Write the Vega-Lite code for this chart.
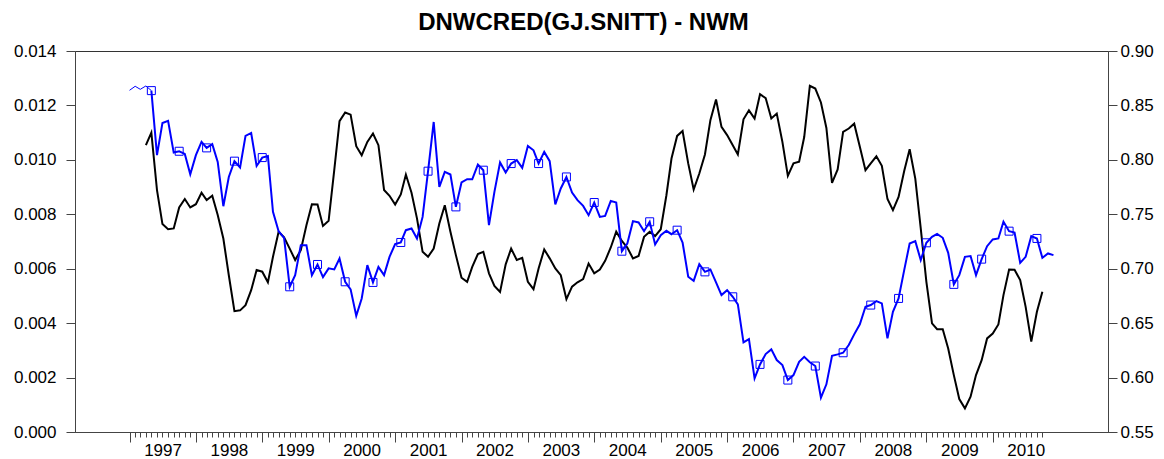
{
  "$schema": "https://vega.github.io/schema/vega-lite/v6.json",
  "width": 1033,
  "height": 381,
  "autosize": {"type": "none"},
  "padding": {"left": 75, "top": 51, "right": 56, "bottom": 27},
  "background": "white",
  "title": {"text": "DNWCRED(GJ.SNITT) - NWM", "font": "Liberation Sans", "fontSize": 24, "fontWeight": "bold", "color": "#000", "anchor": "middle", "offset": 7, "dx": -8},
  "config": {
    "view": {"stroke": "#333", "strokeWidth": 1},
    "axis": {"domainColor": "#444", "tickColor": "#444", "labelFont": "Liberation Sans", "labelFontSize": 17, "labelColor": "#000", "grid": false, "title": null}
  },
  "data": {"values": [
    {"date": "1997-01-01", "nwm": 0.8639, "dnwcred": null},
    {"date": "1997-02-01", "nwm": 0.8676, "dnwcred": null},
    {"date": "1997-03-01", "nwm": 0.8648, "dnwcred": null},
    {"date": "1997-04-01", "nwm": 0.8679, "dnwcred": 0.01054},
    {"date": "1997-05-01", "nwm": 0.8636, "dnwcred": 0.01100},
    {"date": "1997-06-01", "nwm": 0.8043, "dnwcred": 0.00889},
    {"date": "1997-07-01", "nwm": 0.8339, "dnwcred": 0.00764},
    {"date": "1997-08-01", "nwm": 0.8358, "dnwcred": 0.00745},
    {"date": "1997-09-01", "nwm": 0.8067, "dnwcred": 0.00748},
    {"date": "1997-10-01", "nwm": 0.8079, "dnwcred": 0.00825},
    {"date": "1997-11-01", "nwm": 0.8055, "dnwcred": 0.00856},
    {"date": "1997-12-01", "nwm": 0.7868, "dnwcred": 0.00825},
    {"date": "1998-01-01", "nwm": 0.8043, "dnwcred": 0.00837},
    {"date": "1998-02-01", "nwm": 0.8165, "dnwcred": 0.00879},
    {"date": "1998-03-01", "nwm": 0.8110, "dnwcred": 0.00852},
    {"date": "1998-04-01", "nwm": 0.8144, "dnwcred": 0.00868},
    {"date": "1998-05-01", "nwm": 0.7981, "dnwcred": 0.00797},
    {"date": "1998-06-01", "nwm": 0.7574, "dnwcred": 0.00711},
    {"date": "1998-07-01", "nwm": 0.7843, "dnwcred": 0.00576},
    {"date": "1998-08-01", "nwm": 0.7988, "dnwcred": 0.00444},
    {"date": "1998-09-01", "nwm": 0.7930, "dnwcred": 0.00447},
    {"date": "1998-10-01", "nwm": 0.8220, "dnwcred": 0.00466},
    {"date": "1998-11-01", "nwm": 0.8247, "dnwcred": 0.00521},
    {"date": "1998-12-01", "nwm": 0.7944, "dnwcred": 0.00595},
    {"date": "1999-01-01", "nwm": 0.8021, "dnwcred": 0.00589},
    {"date": "1999-02-01", "nwm": 0.8036, "dnwcred": 0.00550},
    {"date": "1999-03-01", "nwm": 0.7522, "dnwcred": 0.00644},
    {"date": "1999-04-01", "nwm": 0.7345, "dnwcred": 0.00736},
    {"date": "1999-05-01", "nwm": 0.7284, "dnwcred": 0.00715},
    {"date": "1999-06-01", "nwm": 0.6834, "dnwcred": 0.00674},
    {"date": "1999-07-01", "nwm": 0.6941, "dnwcred": 0.00632},
    {"date": "1999-08-01", "nwm": 0.7216, "dnwcred": 0.00668},
    {"date": "1999-09-01", "nwm": 0.7216, "dnwcred": 0.00760},
    {"date": "1999-10-01", "nwm": 0.6941, "dnwcred": 0.00837},
    {"date": "1999-11-01", "nwm": 0.7039, "dnwcred": 0.00836},
    {"date": "1999-12-01", "nwm": 0.6923, "dnwcred": 0.00757},
    {"date": "2000-01-01", "nwm": 0.7003, "dnwcred": 0.00776},
    {"date": "2000-02-01", "nwm": 0.6993, "dnwcred": 0.00962},
    {"date": "2000-03-01", "nwm": 0.7094, "dnwcred": 0.01142},
    {"date": "2000-04-01", "nwm": 0.6880, "dnwcred": 0.01174},
    {"date": "2000-05-01", "nwm": 0.6810, "dnwcred": 0.01166},
    {"date": "2000-06-01", "nwm": 0.6568, "dnwcred": 0.01050},
    {"date": "2000-07-01", "nwm": 0.6727, "dnwcred": 0.01017},
    {"date": "2000-08-01", "nwm": 0.7033, "dnwcred": 0.01066},
    {"date": "2000-09-01", "nwm": 0.6874, "dnwcred": 0.01097},
    {"date": "2000-10-01", "nwm": 0.7017, "dnwcred": 0.01054},
    {"date": "2000-11-01", "nwm": 0.6941, "dnwcred": 0.00889},
    {"date": "2000-12-01", "nwm": 0.7109, "dnwcred": 0.00868},
    {"date": "2001-01-01", "nwm": 0.7226, "dnwcred": 0.00836},
    {"date": "2001-02-01", "nwm": 0.7241, "dnwcred": 0.00873},
    {"date": "2001-03-01", "nwm": 0.7354, "dnwcred": 0.00946},
    {"date": "2001-04-01", "nwm": 0.7370, "dnwcred": 0.00879},
    {"date": "2001-05-01", "nwm": 0.7278, "dnwcred": 0.00785},
    {"date": "2001-06-01", "nwm": 0.7476, "dnwcred": 0.00662},
    {"date": "2001-07-01", "nwm": 0.7896, "dnwcred": 0.00644},
    {"date": "2001-08-01", "nwm": 0.8348, "dnwcred": 0.00674},
    {"date": "2001-09-01", "nwm": 0.7752, "dnwcred": 0.00766},
    {"date": "2001-10-01", "nwm": 0.7889, "dnwcred": 0.00833},
    {"date": "2001-11-01", "nwm": 0.7865, "dnwcred": 0.00736},
    {"date": "2001-12-01", "nwm": 0.7568, "dnwcred": 0.00650},
    {"date": "2002-01-01", "nwm": 0.7792, "dnwcred": 0.00567},
    {"date": "2002-02-01", "nwm": 0.7822, "dnwcred": 0.00552},
    {"date": "2002-03-01", "nwm": 0.7822, "dnwcred": 0.00607},
    {"date": "2002-04-01", "nwm": 0.7957, "dnwcred": 0.00654},
    {"date": "2002-05-01", "nwm": 0.7905, "dnwcred": 0.00662},
    {"date": "2002-06-01", "nwm": 0.7400, "dnwcred": 0.00583},
    {"date": "2002-07-01", "nwm": 0.7706, "dnwcred": 0.00537},
    {"date": "2002-08-01", "nwm": 0.7976, "dnwcred": 0.00515},
    {"date": "2002-09-01", "nwm": 0.7884, "dnwcred": 0.00616},
    {"date": "2002-10-01", "nwm": 0.7966, "dnwcred": 0.00674},
    {"date": "2002-11-01", "nwm": 0.7997, "dnwcred": 0.00632},
    {"date": "2002-12-01", "nwm": 0.7926, "dnwcred": 0.00640},
    {"date": "2003-01-01", "nwm": 0.8128, "dnwcred": 0.00552},
    {"date": "2003-02-01", "nwm": 0.8088, "dnwcred": 0.00525},
    {"date": "2003-03-01", "nwm": 0.7966, "dnwcred": 0.00601},
    {"date": "2003-04-01", "nwm": 0.8073, "dnwcred": 0.00671},
    {"date": "2003-05-01", "nwm": 0.7988, "dnwcred": 0.00638},
    {"date": "2003-06-01", "nwm": 0.7590, "dnwcred": 0.00601},
    {"date": "2003-07-01", "nwm": 0.7737, "dnwcred": 0.00576},
    {"date": "2003-08-01", "nwm": 0.7843, "dnwcred": 0.00488},
    {"date": "2003-09-01", "nwm": 0.7700, "dnwcred": 0.00534},
    {"date": "2003-10-01", "nwm": 0.7630, "dnwcred": 0.00550},
    {"date": "2003-11-01", "nwm": 0.7577, "dnwcred": 0.00562},
    {"date": "2003-12-01", "nwm": 0.7492, "dnwcred": 0.00619},
    {"date": "2004-01-01", "nwm": 0.7608, "dnwcred": 0.00583},
    {"date": "2004-02-01", "nwm": 0.7476, "dnwcred": 0.00597},
    {"date": "2004-03-01", "nwm": 0.7485, "dnwcred": 0.00629},
    {"date": "2004-04-01", "nwm": 0.7623, "dnwcred": 0.00678},
    {"date": "2004-05-01", "nwm": 0.7608, "dnwcred": 0.00736},
    {"date": "2004-06-01", "nwm": 0.7161, "dnwcred": 0.00702},
    {"date": "2004-07-01", "nwm": 0.7232, "dnwcred": 0.00678},
    {"date": "2004-08-01", "nwm": 0.7437, "dnwcred": 0.00638},
    {"date": "2004-09-01", "nwm": 0.7425, "dnwcred": 0.00647},
    {"date": "2004-10-01", "nwm": 0.7345, "dnwcred": 0.00717},
    {"date": "2004-11-01", "nwm": 0.7431, "dnwcred": 0.00736},
    {"date": "2004-12-01", "nwm": 0.7223, "dnwcred": 0.00720},
    {"date": "2005-01-01", "nwm": 0.7308, "dnwcred": 0.00745},
    {"date": "2005-02-01", "nwm": 0.7348, "dnwcred": 0.00870},
    {"date": "2005-03-01", "nwm": 0.7317, "dnwcred": 0.01005},
    {"date": "2005-04-01", "nwm": 0.7354, "dnwcred": 0.01088},
    {"date": "2005-05-01", "nwm": 0.7241, "dnwcred": 0.01106},
    {"date": "2005-06-01", "nwm": 0.6926, "dnwcred": 0.00987},
    {"date": "2005-07-01", "nwm": 0.6889, "dnwcred": 0.00891},
    {"date": "2005-08-01", "nwm": 0.7042, "dnwcred": 0.00950},
    {"date": "2005-09-01", "nwm": 0.6971, "dnwcred": 0.01020},
    {"date": "2005-10-01", "nwm": 0.6993, "dnwcred": 0.01146},
    {"date": "2005-11-01", "nwm": 0.6874, "dnwcred": 0.01222},
    {"date": "2005-12-01", "nwm": 0.6758, "dnwcred": 0.01121},
    {"date": "2006-01-01", "nwm": 0.6803, "dnwcred": 0.01091},
    {"date": "2006-02-01", "nwm": 0.6742, "dnwcred": 0.01054},
    {"date": "2006-03-01", "nwm": 0.6672, "dnwcred": 0.01020},
    {"date": "2006-04-01", "nwm": 0.6323, "dnwcred": 0.01149},
    {"date": "2006-05-01", "nwm": 0.6354, "dnwcred": 0.01182},
    {"date": "2006-06-01", "nwm": 0.5993, "dnwcred": 0.01152},
    {"date": "2006-07-01", "nwm": 0.6121, "dnwcred": 0.01241},
    {"date": "2006-08-01", "nwm": 0.6216, "dnwcred": 0.01227},
    {"date": "2006-09-01", "nwm": 0.6259, "dnwcred": 0.01152},
    {"date": "2006-10-01", "nwm": 0.6161, "dnwcred": 0.01170},
    {"date": "2006-11-01", "nwm": 0.6115, "dnwcred": 0.01066},
    {"date": "2006-12-01", "nwm": 0.5977, "dnwcred": 0.00941},
    {"date": "2007-01-01", "nwm": 0.6023, "dnwcred": 0.00987},
    {"date": "2007-02-01", "nwm": 0.6145, "dnwcred": 0.00993},
    {"date": "2007-03-01", "nwm": 0.6191, "dnwcred": 0.01084},
    {"date": "2007-04-01", "nwm": 0.6140, "dnwcred": 0.01272},
    {"date": "2007-05-01", "nwm": 0.6106, "dnwcred": 0.01262},
    {"date": "2007-06-01", "nwm": 0.5815, "dnwcred": 0.01211},
    {"date": "2007-07-01", "nwm": 0.5938, "dnwcred": 0.01117},
    {"date": "2007-08-01", "nwm": 0.6200, "dnwcred": 0.00915},
    {"date": "2007-09-01", "nwm": 0.6213, "dnwcred": 0.00965},
    {"date": "2007-10-01", "nwm": 0.6228, "dnwcred": 0.01103},
    {"date": "2007-11-01", "nwm": 0.6299, "dnwcred": 0.01115},
    {"date": "2007-12-01", "nwm": 0.6397, "dnwcred": 0.01133},
    {"date": "2008-01-01", "nwm": 0.6489, "dnwcred": 0.01048},
    {"date": "2008-02-01", "nwm": 0.6650, "dnwcred": 0.00962},
    {"date": "2008-03-01", "nwm": 0.6666, "dnwcred": 0.00987},
    {"date": "2008-04-01", "nwm": 0.6702, "dnwcred": 0.01013},
    {"date": "2008-05-01", "nwm": 0.6681, "dnwcred": 0.00978},
    {"date": "2008-06-01", "nwm": 0.6360, "dnwcred": 0.00856},
    {"date": "2008-07-01", "nwm": 0.6604, "dnwcred": 0.00815},
    {"date": "2008-08-01", "nwm": 0.6727, "dnwcred": 0.00864},
    {"date": "2008-09-01", "nwm": 0.6987, "dnwcred": 0.00959},
    {"date": "2008-10-01", "nwm": 0.7232, "dnwcred": 0.01039},
    {"date": "2008-11-01", "nwm": 0.7253, "dnwcred": 0.00931},
    {"date": "2008-12-01", "nwm": 0.7079, "dnwcred": 0.00748},
    {"date": "2009-01-01", "nwm": 0.7238, "dnwcred": 0.00552},
    {"date": "2009-02-01", "nwm": 0.7293, "dnwcred": 0.00399},
    {"date": "2009-03-01", "nwm": 0.7320, "dnwcred": 0.00378},
    {"date": "2009-04-01", "nwm": 0.7284, "dnwcred": 0.00378},
    {"date": "2009-05-01", "nwm": 0.7146, "dnwcred": 0.00307},
    {"date": "2009-06-01", "nwm": 0.6856, "dnwcred": 0.00209},
    {"date": "2009-07-01", "nwm": 0.6941, "dnwcred": 0.00121},
    {"date": "2009-08-01", "nwm": 0.7109, "dnwcred": 0.00087},
    {"date": "2009-09-01", "nwm": 0.7116, "dnwcred": 0.00130},
    {"date": "2009-10-01", "nwm": 0.6941, "dnwcred": 0.00209},
    {"date": "2009-11-01", "nwm": 0.7088, "dnwcred": 0.00264},
    {"date": "2009-12-01", "nwm": 0.7207, "dnwcred": 0.00344},
    {"date": "2010-01-01", "nwm": 0.7269, "dnwcred": 0.00362},
    {"date": "2010-02-01", "nwm": 0.7278, "dnwcred": 0.00395},
    {"date": "2010-03-01", "nwm": 0.7431, "dnwcred": 0.00503},
    {"date": "2010-04-01", "nwm": 0.7345, "dnwcred": 0.00597},
    {"date": "2010-05-01", "nwm": 0.7333, "dnwcred": 0.00596},
    {"date": "2010-06-01", "nwm": 0.7054, "dnwcred": 0.00558},
    {"date": "2010-07-01", "nwm": 0.7109, "dnwcred": 0.00460},
    {"date": "2010-08-01", "nwm": 0.7299, "dnwcred": 0.00332},
    {"date": "2010-09-01", "nwm": 0.7278, "dnwcred": 0.00442},
    {"date": "2010-10-01", "nwm": 0.7100, "dnwcred": 0.00515},
    {"date": "2010-11-01", "nwm": 0.7140, "dnwcred": null},
    {"date": "2010-12-01", "nwm": 0.7125, "dnwcred": null}
  ]},
  "transform": [{"window": [{"op": "row_number", "as": "rn"}]}],
  "encoding": {
    "x": {
      "field": "date",
      "type": "temporal",
      "scale": {"type": "utc", "domain": [{"year": 1996, "month": 3, "date": 7, "utc": true}, {"year": 2011, "month": 9, "date": 27, "utc": true}]},
      "axis": {
        "tickCount": {"interval": "month", "step": 1},
        "tickSize": {"condition": {"test": "utcmonth(datum.value) == 0", "value": 10}, "value": 5},
        "tickOpacity": {"condition": {"test": "datum.value < utc(1997,0,1) || datum.value > utc(2010,9,2)", "value": 0}, "value": 1},
        "labelExpr": "utcmonth(datum.value) == 0 && utcyear(datum.value) >= 1997 && utcyear(datum.value) <= 2010 ? utcFormat(datum.value, '%Y') : ''",
        "labelOffset": 33,
        "labelPadding": 0,
        "labelFlush": false,
        "labelOverlap": false,
        "labelBound": false
      }
    }
  },
  "layer": [
    {
      "mark": {"type": "line", "color": "#000000", "strokeWidth": 2},
      "encoding": {
        "y": {
          "field": "dnwcred",
          "type": "quantitative",
          "scale": {"domain": [0, 0.014], "nice": false, "zero": false},
          "axis": {"orient": "left", "values": [0, 0.002, 0.004, 0.006, 0.008, 0.01, 0.012, 0.014], "format": ".3f", "tickSize": 9, "labelPadding": 10}
        }
      }
    },
    {
      "encoding": {
        "y": {
          "field": "nwm",
          "type": "quantitative",
          "scale": {"domain": [0.55, 0.9], "nice": false, "zero": false},
          "axis": {"orient": "right", "values": [0.55, 0.6, 0.65, 0.7, 0.75, 0.8, 0.85, 0.9], "format": ".2f", "tickSize": 9, "labelPadding": 3}
        }
      },
      "layer": [
        {"transform": [{"filter": "datum.rn <= 5"}], "mark": {"type": "line", "color": "#0000ff", "strokeWidth": 1}},
        {"transform": [{"filter": "datum.rn >= 5"}], "mark": {"type": "line", "color": "#0000ff", "strokeWidth": 2}},
        {"transform": [{"filter": "datum.rn % 5 == 0"}], "mark": {"type": "point", "shape": "square", "size": 64, "filled": false, "color": "#0000ff", "strokeWidth": 1, "opacity": 1}}
      ]
    }
  ],
  "resolve": {"scale": {"y": "independent"}}
}
